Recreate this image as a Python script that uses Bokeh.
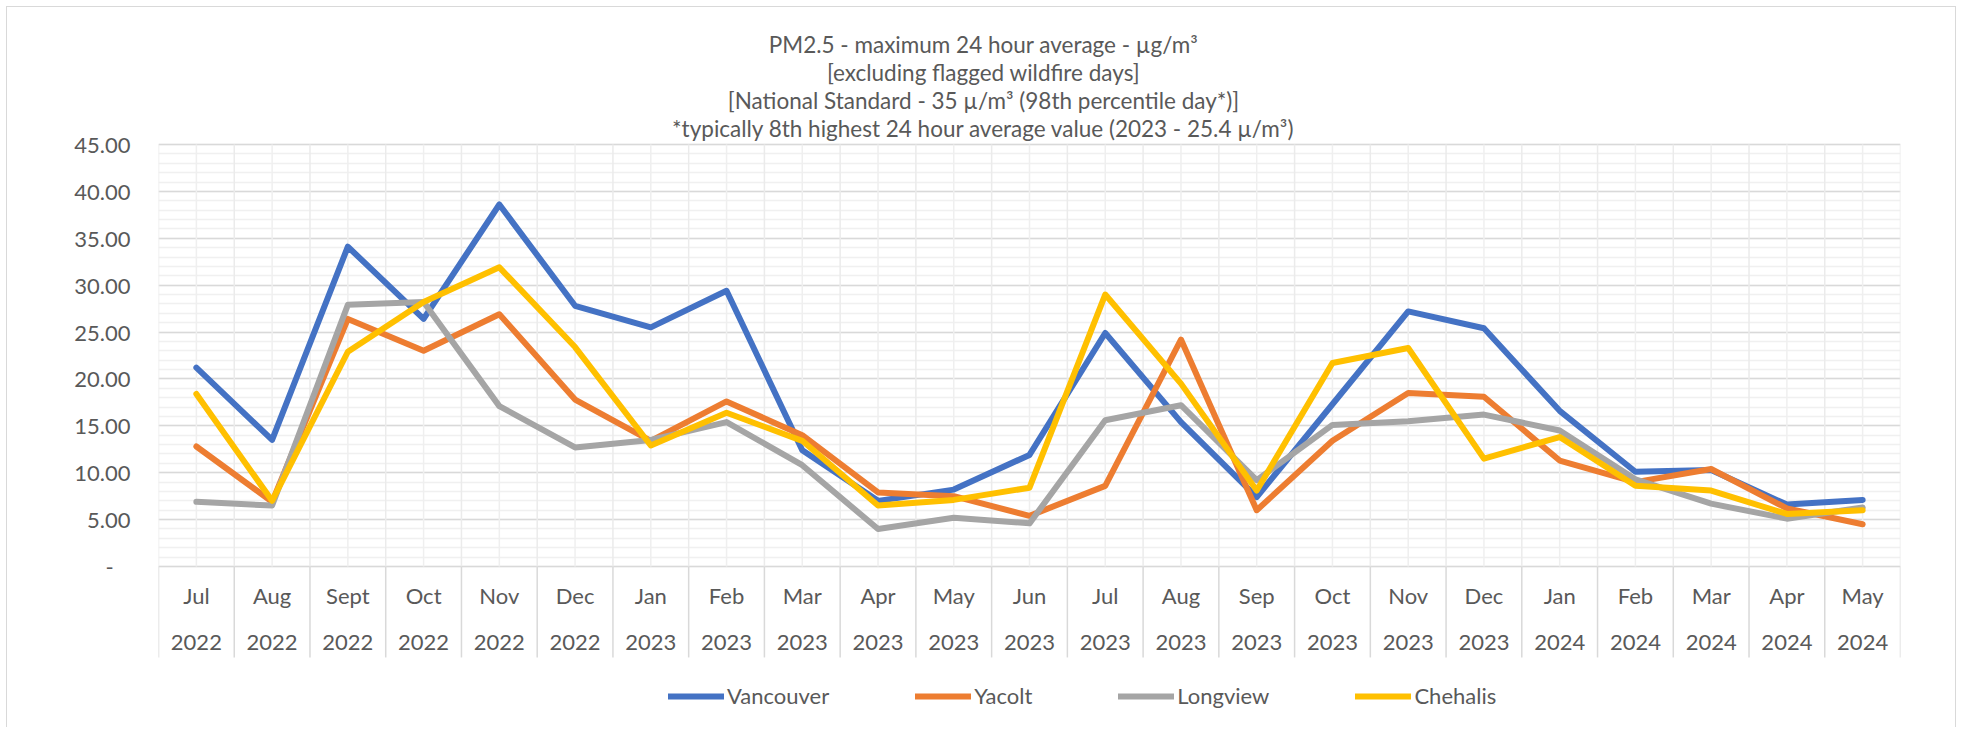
from bokeh.plotting import figure
from bokeh.models import Range1d, FixedTicker, Label, Legend, LegendItem
from bokeh.core.properties import value
from bokeh.embed import file_html
from bokeh.resources import INLINE

# ---------------- data ----------------
months = ["Jul", "Aug", "Sept", "Oct", "Nov", "Dec", "Jan", "Feb", "Mar", "Apr", "May", "Jun",
          "Jul", "Aug", "Sep", "Oct", "Nov", "Dec", "Jan", "Feb", "Mar", "Apr", "May"]
years = ["2022"] * 6 + ["2023"] * 12 + ["2024"] * 5

vancouver = [21.2, 13.5, 34.1, 26.4, 38.6, 27.8, 25.5, 29.4, 12.4, 7.0, 8.2, 11.9,
             24.9, 15.4, 7.4, 17.3, 27.2, 25.4, 16.6, 10.1, 10.3, 6.6, 7.1]
yacolt = [12.8, 6.9, 26.4, 23.0, 26.9, 17.8, 13.4, 17.6, 14.0, 7.9, 7.5, 5.4,
          8.6, 24.2, 6.0, 13.4, 18.5, 18.1, 11.3, 9.0, 10.4, 6.2, 4.5]
longview = [6.9, 6.5, 27.9, 28.2, 17.1, 12.7, 13.5, 15.4, 10.8, 4.0, 5.2, 4.6,
            15.6, 17.2, 9.2, 15.1, 15.5, 16.2, 14.5, 9.3, 6.7, 5.1, 6.3]
chehalis = [18.4, 7.0, 22.9, 28.2, 31.9, 23.4, 12.9, 16.4, 13.4, 6.5, 7.1, 8.4,
            29.0, 19.5, 8.1, 21.7, 23.3, 11.5, 13.8, 8.6, 8.1, 5.6, 6.0]

series_names = ["Vancouver", "Yacolt", "Longview", "Chehalis"]
series_values = [vancouver, yacolt, longview, chehalis]
series_colors = ["#4472C4", "#ED7D31", "#A5A5A5", "#FFC000"]

y_ticks = [0, 5, 10, 15, 20, 25, 30, 35, 40, 45]
y_tick_labels = ["-\u00a0\u00a0\u00a0", "5.00", "10.00", "15.00", "20.00", "25.00",
                 "30.00", "35.00", "40.00", "45.00"]

title_lines = [
    "PM2.5 - maximum 24 hour average - µg/m³",
    "[excluding flagged wildfire days]",
    "[National Standard - 35 µ/m³ (98th percentile day*)]",
    "*typically 8th highest 24 hour average value (2023 - 25.4 µ/m³)",
]

# ---------------- styling ----------------
FONT = "Lato"
TXT = "#595959"
FS = "22px"
FS_TITLE = "22.5px"

n = len(months)
centers = [i + 0.5 for i in range(n)]
bounds = list(range(n + 1))
y_max = 45
box_bottom = -9.7             # bottom of the category label box
y_lo, y_hi = -17.17, 59.61    # frame covers the whole canvas height

p = figure(width=1948, height=720, output_backend="svg", toolbar_location=None,
           x_range=Range1d(0, n), y_range=Range1d(y_lo, y_hi),
           min_border_left=151, min_border_right=55, min_border_top=0, min_border_bottom=0,
           frame_width=1742, frame_height=720)
p.styles = {"margin-left": "6px", "margin-top": "6px",
            "border-top": "1px solid #d9d9d9", "border-left": "1px solid #d9d9d9",
            "border-right": "1px solid #d9d9d9"}
p.outline_line_color = None
p.background_fill_color = "white"

# axes
p.xaxis.visible = False
yax = p.yaxis[0]
yax.ticker = FixedTicker(ticks=y_ticks)
yax.major_label_overrides = {t: lab for t, lab in zip(y_ticks, y_tick_labels)}
yax.axis_line_color = None
yax.major_tick_line_color = None
yax.minor_tick_line_color = None
yax.major_label_standoff = 22
yax.major_label_text_font = FONT
yax.major_label_text_font_size = FS
yax.major_label_text_color = TXT

# horizontal grid
p.ygrid.ticker = FixedTicker(ticks=y_ticks, minor_ticks=list(range(0, 46)))
p.ygrid.grid_line_color = "#d9d9d9"
p.ygrid.grid_line_width = 1.5
p.ygrid.minor_grid_line_color = "#f0f0f0"
p.ygrid.minor_grid_line_width = 1.5
p.xgrid.visible = False

# vertical lines inside plot area (centers and boundaries)
p.segment(x0=centers, y0=[0] * n, x1=centers, y1=[y_max] * n, line_color="#efefef", line_width=1.5)
p.segment(x0=bounds, y0=[0] * (n + 1), x1=bounds, y1=[y_max] * (n + 1),
          line_color="#ebebeb", line_width=1.5)
# category box separators
p.segment(x0=bounds, y0=[box_bottom] * (n + 1), x1=bounds, y1=[0] * (n + 1),
          line_color="#d9d9d9", line_width=1.5)

# category labels
p.text(x=centers, y=[-3.1] * n, text=months, text_align="center", text_baseline="middle",
       text_font=value(FONT), text_font_size=FS, text_color=TXT)
p.text(x=centers, y=[-8.1] * n, text=years, text_align="center", text_baseline="middle",
       text_font=value(FONT), text_font_size=FS, text_color=TXT)

# series
items = []
for name, vals, col in zip(series_names, series_values, series_colors):
    r = p.line(x=centers, y=vals, line_color=col, line_width=6,
               line_join="round", line_cap="round")
    items.append(LegendItem(label=name, renderers=[r]))

legend = Legend(items=items, orientation="horizontal", location=(510, 18),
                glyph_width=56, glyph_height=22, label_standoff=3, spacing=86,
                padding=0, margin=0, border_line_color=None, background_fill_alpha=0,
                label_text_font=FONT, label_text_font_size=FS, label_text_color=TXT)
p.add_layout(legend, "center")

# title (4 lines)
title_y = [683, 655, 627, 599]
for line, ty in zip(title_lines, title_y):
    p.add_layout(Label(x=825, y=ty, x_units="screen", y_units="screen", text=line,
                       text_align="center", text_baseline="middle",
                       text_font=FONT, text_font_size=FS_TITLE, text_color=TXT))

open("out.html", "w").write(file_html(p, INLINE))
